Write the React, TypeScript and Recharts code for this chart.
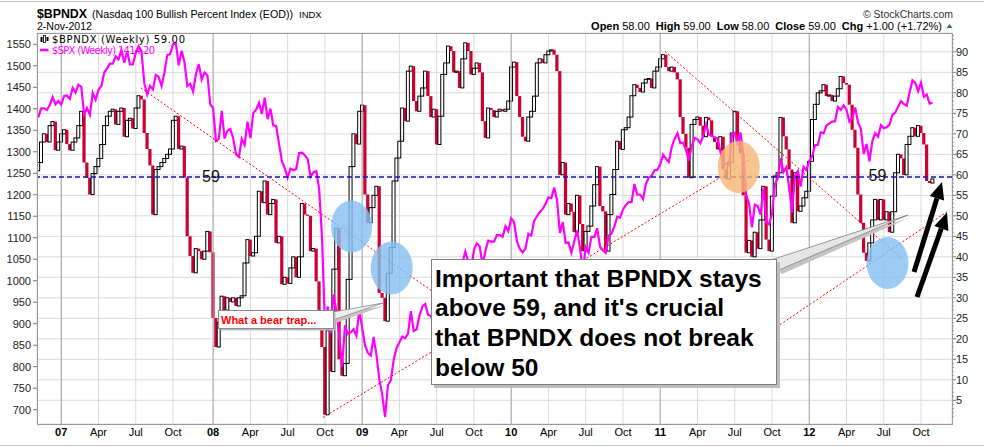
import React from "react"
import {
  ComposedChart,
  Bar,
  Line,
  XAxis,
  YAxis,
  CartesianGrid,
  ReferenceLine,
  ReferenceDot,
} from "recharts"

// weekly bars: week 0 = 10-Nov-2006 ... week 312 = 2-Nov-2012
const START = Date.UTC(2006, 10, 10)
const DAY = 86400000

const bpndxFirstOpen = 61
const bpndxClose = [
  63, 68, 70, 68, 72, 73, 66, 68, 70, 71,
  67.5, 66, 68, 69, 72, 75.5, 63, 59.3, 55.2, 60.3,
  62, 64, 67.4, 72, 74.3, 75.5, 76, 72.3, 75.5, 76.3,
  69.3, 73.3, 73.8, 71.3, 76.3, 79.3, 78.4, 70.2, 66.3, 62.3,
  50.3, 61.3, 62, 63, 64, 65, 66.3, 73.3, 74.3, 66.3,
  67, 59.3, 45, 40.2, 36.1, 42, 41.4, 39.4, 41.4, 46.2,
  41.1, 25.1, 18, 24, 30.4, 27, 30, 29, 30, 28,
  30, 30.5, 38.5, 44.2, 40.2, 41, 45, 56, 53.2, 58.5,
  50.3, 53, 54, 43.4, 45, 33.3, 35, 33.5, 37.3, 40,
  35, 40, 53, 50.3, 50, 41.4, 42, 34, 24, 18,
  1.5, 22, 12, 37, 47, 15, 11, 14, 34.5, 62,
  70, 67.5, 75.5, 77, 55.2, 48.3, 52, 55, 57.2, 31.2,
  30, 24.3, 36, 42.3, 58.5, 64.1, 68.2, 76.3, 73.1, 85.3,
  86.5, 78, 75.5, 79.2, 81.2, 85.3, 79.2, 74.1, 76, 67.4,
  74.3, 84.5, 87.3, 91.4, 90.2, 85, 85.3, 81.2, 88.3, 92.2,
  90.2, 84.5, 86, 87.3, 85, 73.1, 69, 76.3, 75.8, 74.1,
  75.5, 76, 75.5, 76, 78, 86.3, 87.5, 79.2, 74.1, 69.3,
  68.2, 74.1, 75.5, 79.2, 87.3, 88.3, 87.3, 89.3, 90.2, 90.5,
  89.3, 85.3, 60, 63, 50.3, 53, 51, 46, 55, 48,
  41.4, 46.2, 47.5, 52.4, 57.6, 62, 52.4, 51.1, 41.4, 50.3,
  55.2, 61.3, 68.2, 66.2, 71, 71.5, 74.1, 79.3, 82, 81.2,
  80.2, 82.4, 83.3, 83.5, 81.2, 85.3, 86.3, 88.3, 89.3, 86.3,
  85.3, 86.3, 85, 83.3, 74.1, 70, 66.6, 59.3, 72.3, 73.5,
  74.1, 72, 69.3, 74, 73.3, 69.3, 68, 66.2, 69.3, 61.3,
  59, 63, 70.2, 75.5, 68.2, 65.2, 55, 41, 44, 40,
  46, 42, 49, 57.2, 44.2, 41.4, 54.8, 59.7, 60.5, 74,
  69.4, 66.2, 61.3, 48.3, 60.5, 51.1, 52.4, 54.4, 56, 63.3,
  73.5, 77.2, 80, 80.5, 82, 79.2, 79.5, 78, 79.2, 81,
  84, 82.4, 82, 77.1, 71, 66.6, 55.2, 48.3, 41, 39,
  43.4, 49, 54, 49, 54, 49, 51, 46, 51, 60.5,
  65, 64, 60, 67.4, 69.4, 71.5, 69.4, 72, 70.2, 67.4,
  58.5, 58, 59,
]

const spxClose = [
  // 2006
  1380, 1401, 1401, 1397, 1409, 1427, 1410, 1418,
  // 2007
  1410, 1430, 1431, 1423, 1449, 1438, 1456, 1451, 1387, 1402, 1386, 1437, 1421,
  1444, 1453, 1484, 1494, 1505, 1505, 1522, 1515, 1536, 1507, 1533, 1503, 1503,
  1530, 1545, 1534, 1459, 1433, 1453, 1445, 1479, 1474, 1453, 1484, 1525, 1527,
  1550, 1553, 1501, 1535, 1509, 1453, 1458, 1440, 1481, 1504, 1468, 1484, 1478,
  // 2008
  1411, 1401, 1325, 1330, 1395, 1331, 1349, 1353, 1331, 1294, 1288, 1330, 1316,
  1370, 1332, 1390, 1398, 1414, 1388, 1426, 1376, 1400, 1361, 1360, 1318, 1278,
  1262, 1240, 1261, 1257, 1260, 1297, 1298, 1292, 1283, 1242, 1252, 1255, 1213,
  1099, 899, 940, 877, 968, 930, 873, 800, 896, 876, 880, 887, 872,
  // 2009
  932, 890, 850, 832, 826, 869, 827, 770, 735, 683, 757, 768, 816,
  843, 857, 870, 866, 877, 929, 883, 887, 919, 940, 946, 921, 918,
  896, 879, 941, 979, 987, 1010, 1005, 1026, 1029, 1016, 1042, 1068, 1044,
  1025, 1072, 1087, 1080, 1036, 1069, 1093, 1091, 1091, 1106, 1106, 1102, 1127, 1115,
  // 2010
  1145, 1136, 1092, 1074, 1066, 1075, 1109, 1105, 1139, 1150, 1160, 1167, 1179,
  1194, 1192, 1217, 1187, 1111, 1136, 1088, 1089, 1065, 1092, 1117, 1076, 1022,
  1078, 1065, 1102, 1102, 1122, 1079, 1071, 1065, 1105, 1110, 1126, 1149, 1147,
  1166, 1176, 1183, 1183, 1225, 1200, 1200, 1190, 1225, 1240, 1244, 1257, 1258,
  // 2011
  1271, 1293, 1284, 1276, 1311, 1330, 1343, 1320, 1321, 1304, 1279, 1314, 1332,
  1329, 1320, 1337, 1364, 1340, 1338, 1333, 1331, 1300, 1271, 1272, 1268, 1340,
  1344, 1316, 1345, 1292, 1199, 1179, 1124, 1177, 1174, 1154, 1216, 1136, 1131,
  1155, 1225, 1238, 1285, 1253, 1264, 1216, 1159, 1244, 1255, 1219, 1265, 1258,
  // 2012
  1278, 1289, 1315, 1316, 1345, 1343, 1361, 1366, 1370, 1371, 1404, 1397, 1408,
  1398, 1370, 1379, 1403, 1369, 1353, 1295, 1318, 1278, 1325, 1343, 1335, 1362,
  1355, 1357, 1363, 1386, 1391, 1405, 1418, 1411, 1407, 1438, 1466, 1460, 1441,
  1461, 1428, 1433, 1412, 1414.2,
]

const spxTicks = [700, 750, 800, 850, 900, 950, 1000, 1050, 1100, 1150, 1200, 1250, 1300, 1350, 1400, 1450, 1500, 1550]
const bpTicks = [5, 10, 15, 20, 25, 30, 35, 40, 45, 50, 55, 60, 65, 70, 75, 80, 85, 90]
const monthAbbr = ["Jan", "Feb", "Mar", "Apr", "May", "Jun", "Jul", "Aug", "Sep", "Oct", "Nov", "Dec"]

const supportLevel = 59.5
// dotted trend lines, [week, BPNDX] end points
const trendLines = [
  [[35.8, 81.2], [154.1, 23.5]],
  [[99.3, 0.8], [248.3, 63.7]],
  [[218.7, 90.1], [301.7, 39.3]],
  [[255.3, 21.8], [317.1, 51.0]],
]
const highlights = [
  { x: 109.3, y: 47.4, rx: 20.5, ry: 26, fill: "#86c0f0" },
  { x: 123.3, y: 37.3, rx: 21, ry: 26.5, fill: "#86c0f0" },
  { x: 244.4, y: 61.9, rx: 21, ry: 26, fill: "#f6b878" },
  { x: 296.3, y: 38.5, rx: 21, ry: 26, fill: "#86c0f0" },
]
const calloutLines = [
  "Important that BPNDX stays",
  "above 59, and it's crucial",
  "that BPNDX does not break",
  "below 50",
]

const W = 984
const H = 447
const PLOT = { left: 37, top: 33, right: 952, bottom: 424 }
const X_DOMAIN: [number, number] = [-0.45, 318.8]
const BP_DOMAIN: [number, number] = [-0.78, 94.6]
const SPX_DOMAIN: [number, number] = [666.7, 1576.3]
const BP_PX = (PLOT.bottom - PLOT.top) / (BP_DOMAIN[1] - BP_DOMAIN[0])

const FONT = "'Liberation Sans', Arial, Helvetica, sans-serif"
const NARROW = "'Liberation Sans Narrow', 'Arial Narrow', 'Liberation Sans', Arial, sans-serif"
const RED = "#cc0033"

const data = bpndxClose.map((close, i) => {
  const open = i === 0 ? bpndxFirstOpen : bpndxClose[i - 1]
  return {
    i,
    open,
    close,
    body: [Math.min(open, close), Math.max(open, close)],
    up: close >= open,
    spx: spxClose[i],
  }
})

const weekMonday = (i: number) => new Date(START + (7 * i - 4) * DAY)
const quarterTicks: number[] = []
const tickText: Record<number, string> = {}
for (let i = 1; i < bpndxClose.length; i++) {
  const mon = weekMonday(i)
  const m = mon.getUTCMonth()
  if (m !== weekMonday(i - 1).getUTCMonth() && m % 3 === 0) {
    quarterTicks.push(i)
    tickText[i] = m === 0 ? String(mon.getUTCFullYear()).slice(2) : monthAbbr[m]
  }
}
const yearTicks = quarterTicks.filter((t) => /^\d+$/.test(tickText[t]))

const Candle = (props: any) => {
  const { x, y, width, height, payload } = props
  if (x == null || y == null) return null
  const cx = x + width / 2
  const top = height < 0 ? y + height : y
  const h = Math.abs(height || 0)
  if (h < 0.8) {
    return <line x1={cx - 2} x2={cx + 2} y1={top} y2={top} stroke="#000" strokeWidth={1} />
  }
  if (payload.up) {
    return <rect x={cx - 1.5} y={top} width={3} height={h} fill="#fff" stroke="#000" strokeWidth={1} />
  }
  return <rect x={cx - 1.6} y={top} width={3.2} height={h} fill={RED} />
}

const XTick = (props: any) => {
  const { x, y, payload } = props
  const label = tickText[payload.value] || ""
  const isYear = /^\d+$/.test(label)
  return (
    <text x={x} y={y + 12} textAnchor="middle" fontSize={11} fontWeight={isYear ? 700 : 400} fontFamily={NARROW} fill="#000">
      {label}
    </text>
  )
}

const RightTick = (props: any) => {
  const { x, y, payload } = props
  const v = payload.value
  const minors = [1, 2, 3, 4].map((k) => y + k * BP_PX)
  if (v === 90) minors.push(...[1, 2, 3, 4].map((k) => y - k * BP_PX))
  return (
    <g>
      <line x1={x} x2={x + 4} y1={y} y2={y} stroke="#777" />
      {minors.map((my, k) => (
        <line key={k} x1={x} x2={x + 2} y1={my} y2={my} stroke="#999" />
      ))}
      <text x={x + 4} y={y + 4} fontSize={11} fontFamily={FONT} fill="#222">
        {v}
      </text>
    </g>
  )
}

function Arrow({ x1, y1, x2, y2 }: { x1: number; y1: number; x2: number; y2: number }) {
  const dx = x2 - x1
  const dy = y2 - y1
  const len = Math.hypot(dx, dy)
  const ux = dx / len
  const uy = dy / len
  const bx = x2 - ux * 17
  const by = y2 - uy * 17
  const px = -uy * 7.5
  const py = ux * 7.5
  return (
    <g>
      <line x1={x1} y1={y1} x2={bx} y2={by} stroke="#000" strokeWidth={5} />
      <polygon points={`${x2},${y2} ${bx + px},${by + py} ${bx - px},${by - py}`} fill="#000" />
    </g>
  )
}

export default function App() {
  const last = bpndxClose[bpndxClose.length - 1]
  const prev = bpndxClose[bpndxClose.length - 2]
  const chg = last - prev
  const pct = (chg / prev) * 100
  const spxLast = spxClose[spxClose.length - 1]

  return (
    <div style={{ position: "absolute", left: 0, top: 0, width: W, height: H, background: "#fff", overflow: "hidden" }}>
      <div style={{ position: "absolute", left: 0, top: 0 }}>
        <ComposedChart width={W} height={H} data={data} margin={{ top: PLOT.top, right: 0, bottom: 0, left: 0 }}>
          <CartesianGrid stroke="#dadada" yAxisId="bp" />
          <XAxis
            dataKey="i"
            type="number"
            domain={X_DOMAIN}
            allowDataOverflow
            ticks={quarterTicks}
            interval={0}
            height={H - PLOT.bottom}
            tickSize={0}
            tickMargin={0}
            axisLine={false}
            tick={XTick}
          />
          <YAxis
            yAxisId="spx"
            orientation="left"
            width={PLOT.left}
            domain={SPX_DOMAIN}
            allowDataOverflow
            ticks={spxTicks}
            interval={0}
            axisLine={false}
            tickSize={4}
            tickMargin={2}
            tickLine={{ stroke: "#777" }}
            tick={{ fontSize: 11, fill: "#222", fontFamily: FONT }}
          />
          <YAxis
            yAxisId="bp"
            orientation="right"
            width={W - PLOT.right}
            domain={BP_DOMAIN}
            allowDataOverflow
            ticks={bpTicks}
            interval={0}
            axisLine={false}
            tickLine={false}
            tickSize={0}
            tickMargin={0}
            tick={RightTick}
          />
          {yearTicks.map((t) => (
            <ReferenceLine key={t} x={t} yAxisId="bp" stroke="#a9a9a9" />
          ))}
          <Line
            yAxisId="spx"
            dataKey="spx"
            type="linear"
            stroke="#ff00ff"
            strokeWidth={2.2}
            dot={false}
            isAnimationActive={false}
          />
          <Bar yAxisId="bp" dataKey="body" barSize={3} shape={Candle} isAnimationActive={false} />
          <ReferenceLine yAxisId="bp" y={supportLevel} stroke="#1010c0" strokeWidth={1.5} strokeDasharray="5 3" />
          {trendLines.map((seg, k) => (
            <ReferenceLine
              key={k}
              yAxisId="bp"
              segment={[
                { x: seg[0][0], y: seg[0][1] },
                { x: seg[1][0], y: seg[1][1] },
              ]}
              stroke="#ff0000"
              strokeWidth={1}
              strokeDasharray="2 2"
            />
          ))}
          {highlights.map((c, k) => (
            <ReferenceDot
              key={k}
              yAxisId="bp"
              x={c.x}
              y={c.y}
              r={1}
              shape={(p: any) => <ellipse cx={p.cx} cy={p.cy} rx={c.rx} ry={c.ry} fill={c.fill} fillOpacity={0.82} />}
            />
          ))}
        </ComposedChart>
      </div>

      <svg width={W} height={H} style={{ position: "absolute", left: 0, top: 0, pointerEvents: "none" }}>
        <line x1={0} x2={W} y1={1.5} y2={1.5} stroke="#c8c8c8" />
        <line x1={0} x2={W} y1={445.5} y2={445.5} stroke="#c8c8c8" />
        <rect
          x={PLOT.left + 0.5}
          y={PLOT.top + 0.5}
          width={PLOT.right - PLOT.left}
          height={PLOT.bottom - PLOT.top}
          fill="none"
          stroke="#9a9a9a"
        />

        {/* header */}
        <text x={37} y={17.5} fontSize={12.5} fontWeight={700} fontFamily={FONT} fill="#000" textLength={50} lengthAdjust="spacingAndGlyphs">
          $BPNDX
        </text>
        <text x={92} y={17.5} fontSize={10.7} fontFamily={FONT} fill="#000" textLength={201} lengthAdjust="spacingAndGlyphs">
          (Nasdaq 100 Bullish Percent Index (EOD))
        </text>
        <text x={299} y={17.5} fontSize={9.5} fontFamily={FONT} fill="#000">INDX</text>
        <text x={37} y={30} fontSize={10.5} fontFamily={FONT} fill="#000">2-Nov-2012</text>
        <text x={953} y={17.5} fontSize={10.5} fontFamily={FONT} fill="#333" textAnchor="end" textLength={90}>
          © StockCharts.com
        </text>
        <text x={942} y={29.5} fontSize={11} fontFamily={FONT} fill="#000" textAnchor="end">
          <tspan fontWeight={700}>Open</tspan>
          <tspan dx={3}>{prev.toFixed(2)}</tspan>
          <tspan dx={6} fontWeight={700}>High</tspan>
          <tspan dx={3}>{Math.max(prev, last).toFixed(2)}</tspan>
          <tspan dx={6} fontWeight={700}>Low</tspan>
          <tspan dx={3}>{Math.min(prev, last).toFixed(2)}</tspan>
          <tspan dx={6} fontWeight={700}>Close</tspan>
          <tspan dx={3}>{last.toFixed(2)}</tspan>
          <tspan dx={6} fontWeight={700}>Chg</tspan>
          <tspan dx={3}>{`+${chg.toFixed(2)} (+${pct.toFixed(2)}%)`}</tspan>
        </text>
        <polygon points="946.5,28 952.5,28 949.5,24" fill="#2e7d32" />

        {/* legend */}
        <rect x={40.5} y={37} width={2} height={5} fill="#000" />
        <rect x={43.5} y={35.5} width={2} height={7} fill="none" stroke="#000" strokeWidth={0.8} />
        <rect x={46.5} y={37} width={2} height={4} fill="#000" />
        <text x={52} y={43} fontSize={10} fontFamily="'DejaVu Sans', Verdana, sans-serif" fill="#000" textLength={133}>
          {`$BPNDX (Weekly) ${last.toFixed(2)}`}
        </text>
        <line x1={40} x2={48.5} y1={50} y2={50} stroke="#ff00ff" strokeWidth={2.5} />
        <text x={52} y={53.5} fontSize={10} fontFamily="'DejaVu Sans', Verdana, sans-serif" fill="#ff00ff" textLength={103}>
          {`$SPX (Weekly) ${spxLast.toFixed(2)}`}
        </text>

        {/* 59 labels */}
        <text x={211} y={181.5} fontSize={16} fontFamily={FONT} fill="#111" textAnchor="middle">59</text>
        <text x={877.5} y={181} fontSize={16} fontFamily={FONT} fill="#111" textAnchor="middle">59</text>

        {/* bear trap note */}
        <polygon points="335,314.5 385,305.5 337,322.5" fill="#c4c4c4" />
        <polygon points="333,312 383,303 333,320" fill="#eeeeee" stroke="#8a8a8a" strokeWidth={0.8} />
        <rect x={220.5} y={312.5} width={115} height={18} fill="#bdbdbd" />
        <rect x={218.5} y={310.5} width={115} height={18} fill="#fff" stroke="#8a8a8a" />
        <text x={221} y={323.5} fontSize={11} fontWeight={700} fontFamily={FONT} fill="#ff0000">What a bear trap...</text>

        {/* main callout */}
        <polygon points="771,264 910,217.5 782,274" fill="#c4c4c4" />
        <polygon points="768,261 908,215 779,270" fill="#e6e6e6" stroke="#808080" strokeWidth={0.8} />
        <rect x={434} y={262} width={346} height={126} fill="#bdbdbd" />
        <rect x={431.5} y={259.5} width={345} height={125} fill="#fff" stroke="#7f7f7f" />
        {calloutLines.map((t, k) => (
          <text key={k} x={435} y={286.5 + k * 29.7} fontSize={24.5} fontWeight={700} fontFamily={FONT} fill="#000">
            {t}
          </text>
        ))}

        <Arrow x1={914} y1={272} x2={942} y2={182} />
        <Arrow x1={917} y1={297} x2={947} y2={212.5} />
      </svg>
    </div>
  )
}
